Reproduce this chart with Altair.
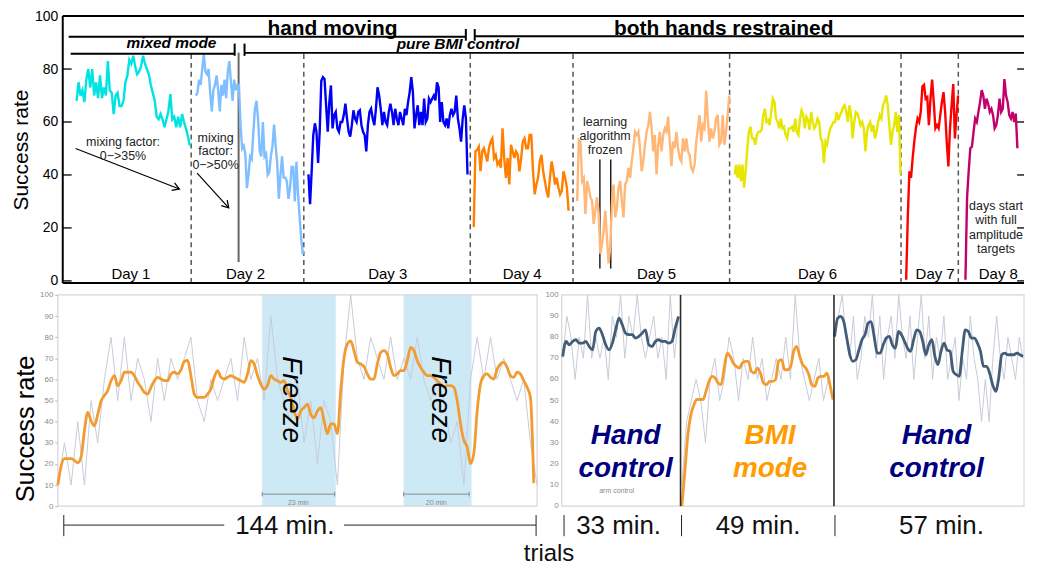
import altair as alt
import numpy as np
import pandas as pd

FONT = "Liberation Sans"

# ---------------- top panel data (success rate per day, trial axis) ----------------
day_names = ["Day 1", "Day 2", "Day 3", "Day 4", "Day 5", "Day 6", "Day 7", "Day 8"]
day_colors = ["#00e3e3", "#80bfff", "#0000f5", "#ff8000", "#ffb878", "#e6e600", "#ff0000", "#c2006b"]
day_first_trial = [14, 134.7, 248.7, 416, 520.7, 680, 853.7, 913.7]
day_last_trial = [128.7, 243, 409.7, 512, 674.7, 848, 906.3, 966.3]
day_boundaries = [130, 244, 412.5, 516.5, 675, 848.5, 906.5]
day_label_trial = [69, 185, 329, 465, 601, 764, 883, 947]

day1 = [68, 75, 70, 72, 67.5, 76, 80, 73, 80, 70, 75, 69, 77.6, 69, 73, 70, 83, 72, 71, 63,
        70, 71, 66, 66, 68, 75, 77.6, 83.5, 82, 85, 81, 78, 79, 81, 85, 82, 80, 78, 74, 71,
        68, 62, 61, 63, 61, 58, 61, 64, 70.5, 61, 62, 58, 62, 58, 63, 60, 57.5, 54.5, 51]
day2 = [70, 71, 76, 74, 80, 85.5, 79, 78, 80, 71, 64, 72, 74, 77.6, 72, 64, 74, 70, 76, 69,
        79, 83, 75, 68, 76, 72, 74, 74, 59, 50, 51, 48, 35, 40, 47, 46, 56, 65, 68, 61,
        49, 47, 60, 47, 48, 40, 41, 47, 51, 59, 51, 44, 31, 40, 47, 39, 39, 37.6, 31, 35,
        43, 43, 30, 45, 33, 24, 16, 10]
day3 = [40.2, 29, 41.4, 55, 59.5, 56.3, 44.5, 56.3, 75.6, 76.9, 76.2, 66.3, 56.3, 67.5, 73.8,
        57.6, 62.6, 63.8, 57.6, 56.3, 60, 60, 62.6, 66.9, 61.3, 56.3, 54.5, 58.8, 64.4, 61.3,
        60, 63.8, 64.4, 58.8, 56.3, 55, 48.9, 58.8, 63.8, 65, 61.3, 58.8, 65, 73.1, 70,
        65, 58.8, 63.8, 60, 58.8, 63.8, 66.9, 63.8, 58.8, 65, 61.3, 58.8, 63.8, 61.3, 58.8,
        65, 62.6, 67.5, 71.3, 76.9, 71.3, 57.6, 62.6, 66.3, 58.8, 63.8, 58.8, 68.8, 60, 61.3,
        68.8, 67.5, 68.8, 70, 68.2, 75, 73.1, 60, 67.5, 60, 58.8, 61.3, 57.6, 62.6, 65,
        62.6, 63.8, 70, 61.3, 57.6, 52.6, 61.3, 66.3, 61.3, 40.2]
day4 = [20.3, 48.9, 49.5, 50.7, 41.4, 48.9, 50.1, 47.6, 45.1, 50.1, 52.6, 53.8, 46.4, 47.6,
        43.9, 45.1, 42.7, 57.6, 46.4, 38.9, 46.4, 36.4, 51.4, 48.9, 46.4, 48.9, 47.6, 41.4,
        46.4, 52.6, 53.8, 50.1, 50.1, 55.1, 55.1, 41.4, 32.7, 36.4, 38.9, 45.1, 47.6, 41.4,
        37.7, 34, 31.5, 38.9, 45.1, 41.4, 36.4, 38.9, 35.2, 32.7, 34, 41.4, 38.9, 35.2, 26.5]
day5 = [30.2, 53.2, 52.6, 37.7, 38.9, 25.3, 37.7, 35.2, 31.5, 30.2, 21.5, 26.5, 31.5, 25.3,
        10.3, 14.1, 19, 26.5, 16.5, 6.6, 12.9, 29, 36.4, 24, 27.7, 35.2, 37.7, 30.2, 24, 36.4,
        37.7, 42.7, 38.9, 45.1, 50.1, 56.3, 55.1, 56.3, 50.1, 41.4, 45.1, 51.4, 56.3, 58.8,
        63.8, 57.6, 48.9, 55.1, 40.2, 51.4, 56.3, 48.9, 55.1, 57.6, 56.3, 62, 52.6, 43.3,
        52.6, 50.1, 56.3, 50.1, 46.4, 45.1, 53.8, 48.9, 53.8, 48.9, 47.6, 42.7, 41.4, 43.9,
        52.6, 57.6, 62.6, 52.6, 58.8, 57.6, 71.9, 61.3, 52.6, 57.6, 53.8, 56.3, 61.3, 62.6,
        51.4, 52.6, 62.6, 51.4, 56.3, 62.6, 70]
day6 = [40.2, 43.9, 38.9, 43.9, 37.7, 43.9, 35.2, 41.4, 50.1, 56.3, 58.2, 53.8, 53.8, 51.4,
        55.1, 56.3, 56.3, 57, 62.6, 65, 60, 60.7, 58.8, 63.8, 68.8, 67.5, 61.3, 60, 57.6,
        61.3, 57.6, 58.2, 55.1, 53.8, 57.6, 57.6, 58.2, 56.3, 61.3, 56.3, 55.1, 61.3, 64.4,
        62.6, 57.6, 62, 60.7, 57, 63.8, 60, 57.6, 58.8, 61.3, 60, 53.8, 52.6, 44.5, 52.6,
        51.4, 55.1, 57.6, 58.8, 60, 60, 63.8, 60.7, 62.6, 63.8, 65.6, 66.3, 63.8, 60, 66.3,
        62.6, 53.8, 60, 63.8, 63.2, 61.3, 58.8, 60, 57.6, 48.9, 56.3, 58.8, 60, 56.3, 58.8,
        53.8, 56.3, 60, 62.6, 61.3, 66.3, 67.5, 70, 66.3, 58.8, 51.4, 56.3, 58.8, 63.8, 56.3,
        62.6, 40.2]
day7 = [0.4, 24, 41.4, 38.9, 46.4, 52.6, 57.6, 61.3, 60, 63.8, 73.4, 74, 68.8, 69.4, 58.8,
        68.8, 76, 67.5, 57.6, 58.8, 57.6, 62.6, 67.5, 71.3, 63.8, 52.6, 43.2, 57.6, 66.3, 74.3,
        53.8, 62.6, 70]
day8 = [0.4, 31.5, 41.4, 50.1, 50.7, 56.3, 61.3, 60, 63.8, 67.5, 72, 70, 65, 68.8, 66.9,
        63.8, 65, 62.6, 57.6, 58.8, 62.6, 68.8, 63.8, 65, 76.2, 70, 67.5, 62.6, 61.3, 63.8,
        60, 63.2, 50.1]
day_values = [day1, day2, day3, day4, day5, day6, day7, day8]

# ---------------- bottom panels data (minutes axis) ----------------
left_smooth = [10, 19, 22.5, 22.5, 22.5, 21.7, 20.5, 23.3, 35.8, 44.4, 40.4, 38, 43.5, 49.8,
               52.4, 54.7, 59.4, 61.8, 57.1, 59.4, 63.4, 63.4, 63.4, 61.8, 58.6, 56.3, 53.9,
               53.1, 56.3, 59.4, 61, 60.2, 59.4, 59.4, 62.6, 63.4, 62.6, 64.5, 68.5, 69, 61.8,
               53.1, 51.5, 51.5, 51.5, 53.1, 55.5, 61, 64.2, 61, 60.2, 61, 61.8, 61, 60.2, 59.4,
               58.6, 62.6, 68.9, 67.3, 61.8, 57.8, 55.5, 57.1, 61.8, 60.2, 59.4, 58.6, 59.4,
               54.7, 51.5, 45.1, 41.2, 45.1, 46.7, 48.3, 43.5, 41.9, 45.1, 46.7, 40.4, 34.3, 39,
               39, 34.3,
               54.7, 70.4, 76.7, 78.3, 73.6, 68.1, 67.3, 66, 62.6, 60.2, 60.2, 67.3, 72.8, 73.6,
               72, 65.7, 61.8, 62.6, 64.2, 64.2, 68.9, 75.2, 73.6, 68.9, 65.7, 63.4, 61.8, 61.8,
               61, 59.4, 57.8, 56.3, 57.1, 57.1, 56.3, 49.9, 39, 31.1, 28, 20.1, 25, 45.1, 57.8,
               61.8, 62.6, 61, 60.2, 64.9, 67.3, 68.1, 65.7, 61.8, 61, 63.4, 62.6, 59.4, 56.3,
               51.5, 10.9]
left_raw = [10, 30, 10, 40, 10, 50, 30, 60, 80, 50, 80, 50, 70, 60, 40, 70, 50, 70, 60, 70,
            80, 50, 40, 60, 50, 60, 70, 50, 80, 60, 70, 50, 90, 60, 50, 40, 60, 30, 50, 20,
            50, 40, 10, 70, 100, 70, 60, 80, 70, 60, 80, 60, 70, 60, 80, 60, 50, 60, 50, 30,
            40, 10, 60, 80, 60, 80, 60, 70, 60, 50, 60, 30, 10]
hand1_smooth = [70.9, 78, 76.4, 78, 78.8, 77.2, 77.2, 78, 75.6, 74, 82.7, 84.3, 81.2, 76.4,
                74, 77.2, 83.5, 89, 85.9, 81.9, 81.2, 81.2, 79.6, 80.4, 81.9, 83.5, 76.4,
                75.6, 78, 78.8, 78, 78, 77.2, 78, 84.3, 89.8]
bmi_smooth = [0, 16.6, 34, 43.4, 48.1, 50.5, 50.5, 50.5, 54.4, 59.1, 61.5, 60.7, 58.3, 57.5,
              65.4, 72.5, 70.9, 67.8, 66.2, 65.4, 67.8, 68.6, 68.6, 63.8, 63, 65.4, 63, 58.3,
              57.5, 59.1, 59.1, 59.9, 68.6, 69.4, 64.6, 64.6, 66.2, 73.3, 75.7, 70.9, 67,
              65.4, 62.3, 57.5, 56.7, 60.7, 61.5, 61.5, 63, 57.5, 50.5]
hand2_smooth = [80.3, 89, 89.8, 87.4, 79.6, 71.7, 68.6, 69.4, 74, 78.8, 81.2, 86.6, 87.4, 80.4,
                72.5, 72.5, 76.4, 79.6, 80.4, 76.4, 74.8, 82.7, 81.2, 78, 74.8, 73.3, 78.8,
                83.5, 82.7, 78, 71.7, 76.4, 78.8, 70.9, 67, 73.3, 77.2, 74, 73.3, 63.8, 62.3,
                61.5, 73.3, 83.5, 82.7, 79.6, 79.6, 77.2, 73.3, 66.2, 66.2, 63, 57.5, 54.4,
                60.7, 71.7, 72.5, 71.7, 71.7, 71.7, 72.5, 71.7, 70.9]
hand1_raw = [70, 90, 80, 60, 80, 70, 100, 70, 80, 70, 80, 60, 90, 80, 100, 70, 90, 80, 100, 80,
             70, 80, 90, 70, 80, 60, 100, 70, 90]
bmi_raw = [10, 40, 50, 60, 50, 30, 60, 70, 50, 60, 80, 70, 50, 70, 60, 80, 60, 70, 50, 60, 70,
           60, 80, 60, 100, 70, 60, 50, 60, 70, 50, 60, 50]
hand2_raw = [80, 90, 100, 80, 70, 90, 60, 70, 90, 80, 100, 70, 90, 60, 80, 90, 70, 100, 80, 70,
             90, 60, 80, 100, 70, 90, 60, 80, 70, 90, 60, 70, 80, 50, 70, 60, 90, 70, 60, 40,
             60, 40, 70, 90, 70, 60, 80, 70, 60, 80, 70]
freeze_start = [61.4, 103.9]
freeze_end = [83.5, 124.3]
freeze_minutes = ["23 min", "20 min"]
section_minutes = ["144 min.", "33 min.", "49 min.", "57 min."]

# ---------------- scales / helpers ----------------
XT = alt.Scale(domain=[-5, 973], nice=False, zero=False)
YT = alt.Scale(domain=[-0.8, 100], nice=False, zero=False)
YT_AX = alt.Axis(title="Success rate", values=[0, 20, 40, 60, 80, 100], domain=False, ticks=False,
                 grid=False, labelFontSize=14, labelFont=FONT, labelColor="black", labelPadding=0,
                 titleFontSize=21, titleFont=FONT, titleFontWeight="normal", titleColor="black",
                 titlePadding=3.5)

XB = alt.Scale(domain=[0, 290.3], nice=False, zero=False)
YB = alt.Scale(domain=[-26.4, 100], nice=False, zero=False)
YB_AX = alt.Axis(title="Success rate", values=list(range(0, 101, 10)), domain=False, ticks=True,
                 tickSize=3, tickColor="#b5b5b5", grid=False, labelFontSize=8, labelFont=FONT,
                 labelColor="#8a8a8a", labelPadding=2, titleFontSize=25.5, titleFont=FONT,
                 titleFontWeight="normal", titleColor="black", titlePadding=1)


def tx(f):
    return alt.X(f, type="quantitative", scale=XT, axis=None)


def ty(f):
    return alt.Y(f, type="quantitative", scale=YT, axis=YT_AX)


def bx(f):
    return alt.X(f, type="quantitative", scale=XB, axis=None)


def by(f):
    return alt.Y(f, type="quantitative", scale=YB, axis=YB_AX)


def seg_df(rows):
    return pd.DataFrame(rows, columns=["x", "x2", "y", "y2"])


def txt_df(rows):
    return pd.DataFrame(rows, columns=["t", "x", "y"])


def top_rules(rows, **mk):
    return alt.Chart(seg_df(rows)).mark_rule(**mk).encode(
        x=tx("x"), x2=alt.X2("x2"), y=ty("y"), y2=alt.Y2("y2"))


def top_text(rows, **mk):
    return alt.Chart(txt_df(rows)).mark_text(font=FONT, **mk).encode(
        x=tx("x"), y=ty("y"), text="t:N")


def bot_rules(rows, **mk):
    return alt.Chart(seg_df(rows)).mark_rule(**mk).encode(
        x=bx("x"), x2=alt.X2("x2"), y=by("y"), y2=alt.Y2("y2"))


def bot_text(rows, **mk):
    return alt.Chart(txt_df(rows)).mark_text(font=FONT, **mk).encode(
        x=bx("x"), y=by("y"), text="t:N")


# ---------------- top panel ----------------
top_rows = []
for name, col, vals, s, e in zip(day_names, day_colors, day_values, day_first_trial, day_last_trial):
    for xv, v in zip(np.linspace(s, e, len(vals)), vals):
        top_rows.append({"day": name, "col": col, "trial": float(xv), "rate": v})
top_df = pd.DataFrame(top_rows)

frame = top_rules([(0, 0, -0.8, 100), (0, 973, 100, 100), (0, 973, -0.8, -0.8)],
                  color="black", strokeWidth=2)
ticks = top_rules([(0, 9, v, v) for v in range(0, 101, 20)] +
                  [(966, 973, v, v) for v in range(0, 101, 20)], color="black", strokeWidth=1.3)
headers = top_rules([(6, 408, 92.2, 92.2), (408, 408, 90.7, 95.1), (417, 417, 90.7, 95.1),
                     (417, 973, 92.4, 92.4), (8, 174, 85.8, 85.8), (174, 174, 85.0, 89.6),
                     (184, 184, 85.0, 89.6), (184, 973, 86.1, 86.1)], color="black", strokeWidth=2)
dashed = top_rules([(b, b, -0.8, 85.8) for b in day_boundaries], color="#555555",
                   strokeWidth=1.5, strokeDash=[5, 4])
day2_marker = top_rules([(178, 178, 7.1, 86.2)], color="#666666", strokeWidth=2)
frozen_marks = top_rules([(543.7, 543.7, 4.7, 45.8), (554.7, 554.7, 4.7, 45.8)],
                         color="black", strokeWidth=1.3)
arrows = top_rules([(13, 118, 50, 34.7), (136, 168, 40.7, 27.6)], color="black", strokeWidth=1.2)
chevron = "M -1 -0.6 L 0 0 L -1 0.6"
head1 = alt.Chart(txt_df([("a", 118, 34.7)])).mark_point(
    shape=chevron, filled=False, color="black", strokeWidth=1.3, size=180, angle=21.4, opacity=1
).encode(x=tx("x"), y=ty("y"))
head2 = alt.Chart(txt_df([("a", 168, 27.6)])).mark_point(
    shape=chevron, filled=False, color="black", strokeWidth=1.3, size=180, angle=47.7, opacity=1
).encode(x=tx("x"), y=ty("y"))

day_lines = alt.Chart(top_df).mark_line(strokeWidth=2.4).encode(
    x=tx("trial"), y=ty("rate"), color=alt.Color("col:N", scale=None), detail="day:N")

head_text = top_text([("hand moving", 273, 93.0), ("both hands restrained", 669, 93.0)],
                     fontSize=21, fontWeight="bold", align="center", baseline="alphabetic",
                     color="black")
sub_text = top_text([("mixed mode", 110, 87.8), ("pure BMI control", 400, 87.5)],
                    fontSize=15.5, fontWeight="bold", fontStyle="italic", align="center",
                    baseline="alphabetic", color="black")
day_text = top_text([(n, x, 0.9) for n, x in zip(day_names, day_label_trial)],
                    fontSize=15, align="center", baseline="alphabetic", color="black")
note_text = top_text([("mixing factor:", 61, 52.6), ("0\u2212>35%", 61, 47.2),
                      ("mixing", 154.7, 53.8), ("factor:", 154.7, 49.1), ("0\u2212>50%", 154.7, 43.9),
                      ("learning", 549, 60.1), ("algorithm", 549, 54.7), ("frozen", 549, 49.5),
                      ("days start", 944.7, 28.4), ("with full", 944.7, 23), ("amplitude", 944.7, 17.5),
                      ("targets", 944.7, 12.2)],
                     fontSize=12.5, align="center", baseline="middle", color="#222222")

top = alt.layer(dashed, day2_marker, frozen_marks, day_lines, frame, ticks, headers, arrows,
                head1, head2, head_text, sub_text, day_text, note_text).properties(width=970, height=268)

# ---------------- bottom panels ----------------
bands = alt.Chart(pd.DataFrame({"x": freeze_start, "x2": freeze_end, "y": [0, 0], "y2": [100, 100]})
                  ).mark_rect(color="#cde9f6").encode(x=bx("x"), x2=alt.X2("x2"), y=by("y"), y2=alt.Y2("y2"))
frames = alt.Chart(seg_df([(0, 144, 0, 100), (151.4, 290.3, 0, 100)])).mark_rect(
    fillOpacity=0, stroke="#d6d6d6", strokeWidth=1.2
).encode(x=bx("x"), x2=alt.X2("x2"), y=by("y"), y2=alt.Y2("y2"))

raw_rows = []
for seg, vals, s, e in [("left", left_raw, 0, 144), ("h1", hand1_raw, 151.7, 186.5),
                        ("bmi", bmi_raw, 187.5, 232.9), ("h2", hand2_raw, 233.4, 290)]:
    for xv, v in zip(np.linspace(s, e, len(vals)), vals):
        raw_rows.append({"seg": seg, "m": float(xv), "rate": v})
raw_lines = alt.Chart(pd.DataFrame(raw_rows)).mark_line(color="#c9cbd8", strokeWidth=1).encode(
    x=bx("m"), y=by("rate"), detail="seg:N")

sm_rows = []
for seg, col, vals, s, e in [("left", "#f29b30", left_smooth, 0, 143),
                             ("h1", "#435c78", hand1_smooth, 151.7, 186.5),
                             ("bmi", "#f29b30", bmi_smooth, 187.5, 232.9),
                             ("h2", "#435c78", hand2_smooth, 233.4, 290)]:
    for xv, v in zip(np.linspace(s, e, len(vals)), vals):
        sm_rows.append({"seg": seg, "col": col, "m": float(xv), "rate": v})
smooth_lines = alt.Chart(pd.DataFrame(sm_rows)).mark_line(strokeWidth=2.8, interpolate="monotone").encode(
    x=bx("m"), y=by("rate"), color=alt.Color("col:N", scale=None), detail="seg:N")

dividers = bot_rules([(187.1, 187.1, 0, 100), (233.2, 233.2, 0, 100)], color="#2b2b2b", strokeWidth=1.6)
scale_bars = bot_rules([(freeze_start[0], 83.2, 5.7, 5.7), (freeze_start[0], freeze_start[0], 4.6, 6.8),
                        (83.2, 83.2, 4.6, 6.8), (freeze_start[1], 123.6, 5.7, 5.7),
                        (freeze_start[1], freeze_start[1], 4.6, 6.8), (123.6, 123.6, 4.6, 6.8)],
                       color="#8a8a8a", strokeWidth=1)
bar_text = bot_text([(freeze_minutes[0], 72.3, 1.3), (freeze_minutes[1], 113.7, 1.3),
                     ("arm control", 167.9, 7.1)],
                    fontSize=7, align="center", baseline="middle", color="#8a8a8a")
right_labels = bot_text([(str(v), 150.5, v) for v in range(0, 101, 10)],
                        fontSize=8, align="right", baseline="middle", color="#8a8a8a")
freeze_text = bot_text([("Freeze", 70.1, 50.5), ("Freeze", 114.7, 50.5)],
                       fontSize=28, fontStyle="italic", angle=90, align="center", baseline="middle",
                       color="black")
mode_df = pd.DataFrame([("Hand", 170.6, 33, "#000080"), ("control", 170.6, 17.5, "#000080"),
                        ("BMI", 214, 33, "#ff9a00"), ("mode", 214, 17.5, "#ff9a00"),
                        ("Hand", 264, 33, "#000080"), ("control", 264, 17.5, "#000080")],
                       columns=["t", "x", "y", "c"])
mode_text = alt.Chart(mode_df).mark_text(font=FONT, fontSize=28, fontWeight="bold", fontStyle="italic",
                                         align="center", baseline="middle").encode(
    x=bx("x"), y=by("y"), text="t:N", color=alt.Color("c:N", scale=None))

brackets = bot_rules([(1.8, 50, -8.96, -8.96), (86, 143.7, -8.96, -8.96), (1.8, 1.8, -4.2, -14.2),
                      (143.7, 143.7, -4.2, -14.2), (152.1, 152.1, -4.2, -14.2),
                      (187.4, 187.4, -4.2, -14.2), (233.5, 233.5, -4.2, -14.2)],
                     color="#222222", strokeWidth=1)
minute_text = bot_text([(section_minutes[0], 68.2, -9.3), (section_minutes[1], 168.5, -9.3),
                        (section_minutes[2], 210.4, -9.3), (section_minutes[3], 265.5, -9.3)],
                       fontSize=26, align="center", baseline="middle", color="#111111")
trials_text = bot_text([("trials", 147.6, -22.6)], fontSize=24, align="center", baseline="middle",
                       color="#111111")

bottom = alt.layer(bands, frames, raw_lines, smooth_lines, dividers, scale_bars, bar_text,
                   right_labels, freeze_text, mode_text, brackets, minute_text,
                   trials_text).properties(width=970, height=268)

chart = alt.vconcat(top, bottom, spacing=3).properties(
    padding={"left": 2, "top": 0, "right": 0, "bottom": 0}
).configure(font=FONT).configure_view(stroke=None)
chart.save("out.html", embed_options={"renderer": "svg", "actions": False})
